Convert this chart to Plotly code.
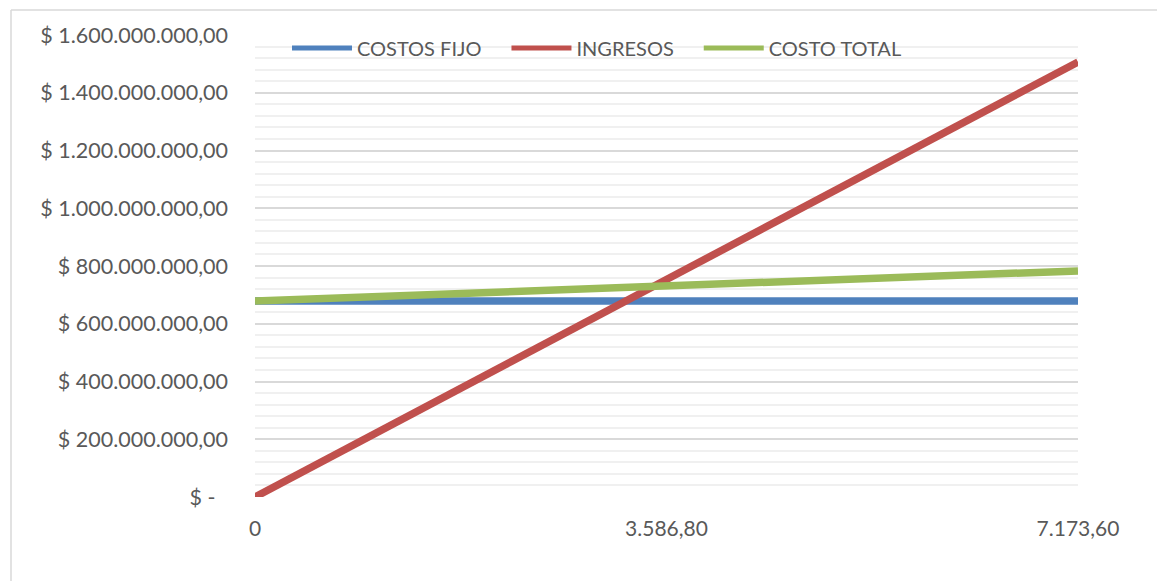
import plotly.graph_objects as go

# Units produced / sold
unidades = [0, 3586.8, 7173.6]
unidades_txt = ["0", "3.586,80", "7.173,60"]

# Series values (COP)
costos_fijo = [679_000_000, 679_000_000, 679_000_000]
ingresos = [0, 753_228_000, 1_506_456_000]
costo_total = [679_000_000, 731_000_000, 783_000_000]

# Y-axis tick labels (accounting format)
y_ticks = [0, 200e6, 400e6, 600e6, 800e6, 1000e6, 1200e6, 1400e6, 1600e6]
y_labels = ["$ -\u2007",
            "$ 200.000.000,00", "$ 400.000.000,00", "$ 600.000.000,00",
            "$ 800.000.000,00", "$ 1.000.000.000,00", "$ 1.200.000.000,00",
            "$ 1.400.000.000,00", "$ 1.600.000.000,00"]

FONT = "Lato"
FS = 21.5
TXT = "#595959"
PAD = "\u2002\u2002"  # spacing after each legend entry

fig = go.Figure()
series = [
    ("COSTOS FIJO", costos_fijo, "#4f81bd"),
    ("INGRESOS", ingresos, "#c0504d"),
    ("COSTO TOTAL", costo_total, "#9bbb59"),
]
for name, vals, color in series:
    fig.add_trace(go.Scatter(
        x=unidades, y=vals, name=name + PAD, mode="lines",
        line=dict(color=color, width=7.5),
        hoverinfo="skip",
    ))

W, H = 1157, 581
L, R, T, B = 255, 79, 35, 84
pw, ph = W - L - R, H - T - B

fig.update_layout(
    width=W, height=H,
    margin=dict(l=L, r=R, t=T, b=B, pad=0),
    paper_bgcolor="white", plot_bgcolor="white",
    font=dict(family=FONT, size=FS, color=TXT),
    showlegend=True,
    legend=dict(
        orientation="h", x=(287 - L) / pw, y=(H - B - 48) / ph,
        xanchor="left", yanchor="middle",
        bgcolor="rgba(0,0,0,0)", itemwidth=60,
        font=dict(family=FONT, size=20, color=TXT),
        tracegroupgap=0, itemsizing="constant",
    ),
    xaxis=dict(
        range=[0, 7173.6], tickmode="array",
        tickvals=unidades, ticktext=unidades_txt,
        showgrid=False, zeroline=False, showline=False,
        ticks="", ticklabelstandoff=17,
        tickfont=dict(family=FONT, size=21, color=TXT),
    ),
    yaxis=dict(
        range=[0, 1.6e9], tickmode="array",
        tickvals=y_ticks, ticktext=y_labels,
        showgrid=True, gridcolor="#d9d9d9", gridwidth=1.5,
        zeroline=False, showline=False, ticks="",
        ticklabelstandoff=26,
        minor=dict(dtick=40e6, tick0=0, showgrid=True,
                   gridcolor="#f0f0f0", gridwidth=1.5),
        tickfont=dict(family=FONT, size=FS, color=TXT),
    ),
    shapes=[
        # chart area border (left and top edges)
        dict(type="line", xref="paper", yref="paper",
             x0=(11 - L) / pw, x1=(11 - L) / pw,
             y0=(H - B - 600) / ph, y1=(H - B - 10) / ph,
             line=dict(color="#d9d9d9", width=1.5)),
        dict(type="line", xref="paper", yref="paper",
             x0=(11 - L) / pw, x1=(1300 - L) / pw,
             y0=(H - B - 10) / ph, y1=(H - B - 10) / ph,
             line=dict(color="#d9d9d9", width=1.5)),
    ],
)

fig.write_html("out.html")
